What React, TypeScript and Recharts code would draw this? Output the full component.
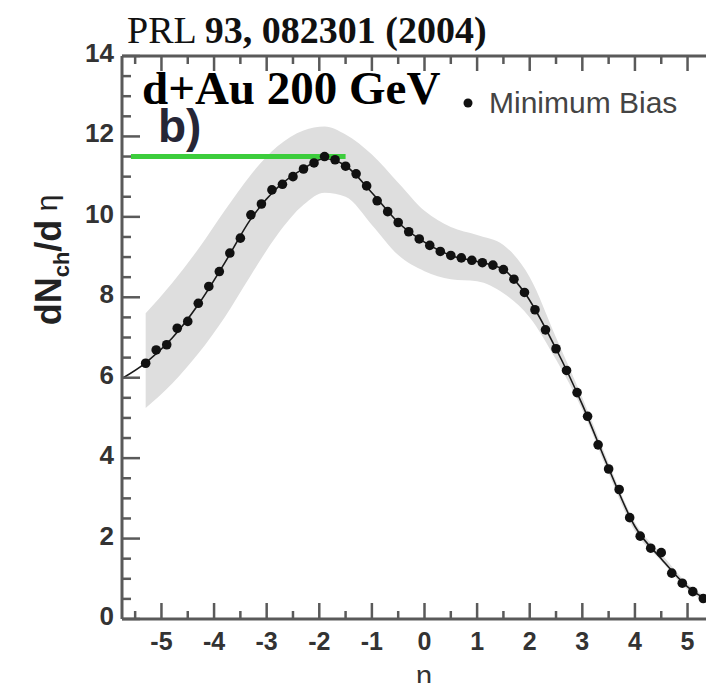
import React from 'react';
import {
  ComposedChart, XAxis, YAxis, Line, Area, Scatter, ReferenceLine,
} from 'recharts';

// measured points (PHOBOS d+Au minimum bias)
const ETA = [
  -5.3, -5.1, -4.9, -4.7, -4.5, -4.3, -4.1, -3.9, -3.7, -3.5, -3.3, -3.1, -2.9, -2.7,
  -2.5, -2.3, -2.1, -1.9, -1.7, -1.5, -1.3, -1.1, -0.9, -0.7, -0.5, -0.3, -0.1,
  0.1, 0.3, 0.5, 0.7, 0.9, 1.1, 1.3, 1.5, 1.7, 1.9, 2.1, 2.3, 2.5, 2.7,
  2.9, 3.1, 3.3, 3.5, 3.7, 3.9, 4.1, 4.3, 4.5, 4.7, 4.9, 5.1, 5.3,
];
const DNDETA = [
  6.36, 6.69, 6.82, 7.23, 7.40, 7.85, 8.27, 8.64, 9.10, 9.47, 10.05, 10.32, 10.67, 10.81,
  11.0, 11.19, 11.34, 11.50, 11.42, 11.26, 11.07, 10.77, 10.40, 10.13, 9.86, 9.63, 9.45,
  9.29, 9.14, 9.04, 8.98, 8.92, 8.86, 8.80, 8.69, 8.45, 8.12, 7.69, 7.19, 6.72, 6.18,
  5.63, 5.04, 4.33, 3.73, 3.22, 2.52, 2.06, 1.76, 1.65, 1.14, 0.89, 0.68, 0.51,
];

// smooth curve through the points
const FIT_ETA = [-5.75, -5.3, -4.8, -4.3, -3.8, -3.3, -2.8, -2.3, -1.9, -1.5, -1.0, -0.5, 0.0, 0.5, 1.0, 1.5, 1.9, 2.5, 3.0, 3.5, 4.0, 4.5, 5.0, 5.75];
const FIT_VAL = [5.98, 6.37, 6.98, 7.82, 8.85, 9.95, 10.72, 11.2, 11.45, 11.27, 10.6, 9.86, 9.37, 9.04, 8.89, 8.69, 8.12, 6.72, 5.33, 3.75, 2.3, 1.5, 0.8, 0.28];

// systematic error band
const BAND_ETA = [-5.3, -4.8, -4.3, -3.8, -3.3, -2.8, -2.3, -1.9, -1.5, -1.0, -0.5, 0.0, 0.5, 1.0, 1.5, 2.0, 2.5, 3.0, 3.5, 4.0, 4.5, 5.0, 5.5];
const BAND_LO = [5.25, 5.85, 6.6, 7.5, 8.55, 9.55, 10.3, 10.6, 10.5, 9.8, 9.05, 8.65, 8.45, 8.4, 8.1, 7.5, 6.45, 5.2, 3.62, 2.18, 1.44, 0.72, 0.32];
const BAND_HI = [7.6, 8.35, 9.2, 10.15, 11.05, 11.75, 12.15, 12.25, 12.05, 11.55, 10.85, 10.15, 9.75, 9.55, 9.3, 8.5, 7.0, 5.5, 3.88, 2.4, 1.62, 0.88, 0.44];

const X_TICKS = [-5.5, -5, -4.5, -4, -3.5, -3, -2.5, -2, -1.5, -1, -0.5, 0, 0.5, 1, 1.5, 2, 2.5, 3, 3.5, 4, 4.5, 5, 5.5];
const Y_TICKS = [0, 0.5, 1, 1.5, 2, 2.5, 3, 3.5, 4, 4.5, 5, 5.5, 6, 6.5, 7, 7.5, 8, 8.5, 9, 9.5, 10, 10.5, 11, 11.5, 12, 12.5, 13, 13.5, 14];

const PEAK_LINE = { from: -5.58, to: -1.5, y: 11.5 };

const points = ETA.map((eta, i) => ({ eta, v: DNDETA[i] }));

// merge fit + band onto one eta grid for the chart
const table = (() => {
  const rows: Record<string, any> = {};
  FIT_ETA.forEach((eta, i) => {
    rows[eta] = { ...(rows[eta] || { eta }), fit: FIT_VAL[i] };
  });
  BAND_ETA.forEach((eta, i) => {
    rows[eta] = { ...(rows[eta] || { eta }), band: [BAND_LO[i], BAND_HI[i]] };
  });
  return Object.values(rows).sort((a: any, b: any) => a.eta - b.eta);
})();

const AXIS = '#5a5a5a';
const SANS = '"Liberation Sans", Arial, Helvetica, sans-serif';
const SERIF = '"Liberation Serif", "Times New Roman", serif';

const BottomTick = (props: any) => {
  const { x, y, payload } = props;
  const v = payload.value;
  const major = Number.isInteger(v);
  return (
    <g>
      <line x1={x} y1={y} x2={x} y2={y - (major ? 16 : 8)} stroke={AXIS} strokeWidth={2.5} />
      {major && (
        <text x={x} y={y + 31} textAnchor="middle" fontFamily={SANS} fontWeight="bold" fontSize={25} fill="#333">
          {String(v)}
        </text>
      )}
    </g>
  );
};

const TopTick = (props: any) => {
  const { x, y, payload } = props;
  const major = Number.isInteger(payload.value);
  return <line x1={x} y1={y} x2={x} y2={y + (major ? 15 : 8)} stroke={AXIS} strokeWidth={2.5} />;
};

const LeftTick = (props: any) => {
  const { x, y, payload } = props;
  const v = payload.value;
  const major = v % 2 === 0;
  return (
    <g>
      <line x1={x} y1={y} x2={x + (major ? 18 : 9)} y2={y} stroke={AXIS} strokeWidth={2.5} />
      {major && (
        <text x={x - 8} y={y + 6} textAnchor="end" fontFamily={SANS} fontWeight="bold" fontSize={26} fill="#333">
          {String(v)}
        </text>
      )}
    </g>
  );
};

const Dot = (props: any) => <circle cx={props.cx} cy={props.cy} r={4.8} fill="#111" />;

export default function App() {
  return (
    <div style={{ position: 'relative', width: 714, height: 691, overflow: 'hidden', margin: -8, background: '#fff' }}>
      <ComposedChart width={740} height={691} data={table} margin={{ top: 26, right: 13, bottom: 0, left: 0 }}>
        <XAxis
          xAxisId="b" dataKey="eta" type="number" domain={[-5.75, 5.75]} ticks={X_TICKS} interval={0}
          height={72} tickSize={0} tickMargin={0} tickLine={false} tick={<BottomTick />}
          axisLine={{ stroke: AXIS, strokeWidth: 3 }} allowDataOverflow
        />
        <XAxis
          xAxisId="t" orientation="top" dataKey="eta" type="number" domain={[-5.75, 5.75]} ticks={X_TICKS} interval={0}
          height={30} tickSize={0} tickMargin={0} tickLine={false} tick={<TopTick />}
          axisLine={{ stroke: AXIS, strokeWidth: 3 }} allowDataOverflow
        />
        <YAxis
          type="number" domain={[0, 14]} ticks={Y_TICKS} interval={0} width={122}
          tickSize={0} tickMargin={0} tickLine={false} tick={<LeftTick />}
          axisLine={{ stroke: AXIS, strokeWidth: 3 }} allowDataOverflow
        />
        <Area
          xAxisId="b" dataKey="band" type="monotone" fill="#dedede" fillOpacity={1} stroke="none"
          connectNulls isAnimationActive={false}
        />
        <Line
          xAxisId="b" dataKey="fit" type="monotone" stroke="#1a1a1a" strokeWidth={1.6} dot={false}
          connectNulls isAnimationActive={false}
        />
        <ReferenceLine
          xAxisId="b"
          segment={[{ x: PEAK_LINE.from, y: PEAK_LINE.y }, { x: PEAK_LINE.to, y: PEAK_LINE.y }]}
          stroke="#3ccd3c" strokeWidth={5} ifOverflow="visible"
        />
        <Scatter xAxisId="b" data={points} dataKey="v" shape={<Dot />} isAnimationActive={false} />
      </ComposedChart>

      <svg width={714} height={691} style={{ position: 'absolute', left: 0, top: 0, pointerEvents: 'none' }}>
        <text x={127} y={43} fontFamily={SERIF} fontSize={38} fill="#111">
          PRL <tspan fontWeight="bold">93, 082301 (2004)</tspan>
        </text>
        <text x={158} y={142} fontFamily={SANS} fontWeight="bold" fontSize={46} fill="#262636">b)</text>
        <text x={142} y={104} fontFamily={SERIF} fontWeight="bold" fontSize={47} fill="#000">d+Au 200 GeV</text>
        <circle cx={468} cy={103} r={4.5} fill="#111" />
        <text x={489} y={113} fontFamily={SANS} fontSize={30} fill="#444">Minimum Bias</text>
        <text transform="translate(61,260) rotate(-90)" textAnchor="middle" fontFamily={SANS} fontWeight="bold" fontSize={36} fill="#222">
          dN<tspan fontSize={22} dy={8}>ch</tspan><tspan dy={-8}>/d</tspan><tspan fontWeight="normal" fontSize={30} dy={-4}> η</tspan>
        </text>
        <text x={424} y={686} textAnchor="middle" fontFamily={SANS} fontSize={29} fill="#333">η</text>
      </svg>
    </div>
  );
}
